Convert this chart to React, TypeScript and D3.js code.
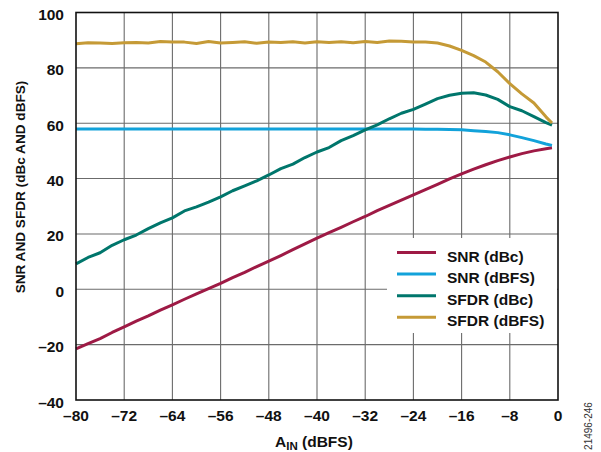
import React from "react";
import * as d3 from "d3";

const ain = [-80, -78, -76, -74, -72, -70, -68, -66, -64, -62, -60, -58, -56, -54, -52, -50, -48, -46, -44, -42, -40, -38, -36, -34, -32, -30, -28, -26, -24, -22, -20, -18, -16, -14, -12, -10, -8, -6, -4, -2, -1];

const snrDbc = [-21.5, -19.6, -17.8, -15.6, -13.6, -11.5, -9.6, -7.5, -5.6, -3.6, -1.7, 0.2, 2.1, 4.2, 6.1, 8.2, 10.2, 12.2, 14.3, 16.4, 18.5, 20.5, 22.4, 24.4, 26.3, 28.4, 30.3, 32.2, 34.1, 36.0, 37.9, 39.9, 41.7, 43.4, 45.0, 46.5, 47.8, 49.0, 50.0, 50.8, 51.1];

const snrDbfs = [57.9, 57.9, 57.9, 57.9, 57.9, 57.9, 57.9, 57.9, 57.9, 57.9, 57.9, 57.9, 57.9, 57.9, 57.9, 57.9, 57.9, 57.9, 57.9, 57.9, 57.9, 57.9, 57.9, 57.9, 57.9, 57.9, 57.9, 57.9, 57.9, 57.8, 57.8, 57.7, 57.6, 57.3, 57.0, 56.6, 55.8, 54.8, 53.7, 52.5, 52.0];

const sfdrDbc = [9.2, 11.5, 13.2, 15.9, 17.9, 19.6, 21.9, 24.0, 25.8, 28.3, 29.8, 31.5, 33.4, 35.6, 37.4, 39.2, 41.3, 43.6, 45.2, 47.6, 49.6, 51.2, 53.7, 55.5, 57.6, 59.4, 61.6, 63.6, 65.0, 66.9, 68.9, 70.1, 70.8, 71.0, 70.2, 68.6, 66.0, 64.5, 62.4, 60.2, 59.3];

const sfdrDbfs = [88.7, 89.1, 89.0, 88.8, 89.1, 89.2, 89.0, 89.5, 89.3, 89.3, 88.8, 89.5, 89.0, 89.2, 89.4, 88.9, 89.3, 89.2, 89.4, 89.0, 89.4, 89.2, 89.4, 89.1, 89.5, 89.2, 89.7, 89.6, 89.3, 89.3, 89.0, 87.9, 86.3, 84.4, 82.1, 78.6, 74.3, 70.6, 67.3, 62.3, 60.1];

const xTicks = [-80, -72, -64, -56, -48, -40, -32, -24, -16, -8, 0];
const yTicks = [100, 80, 60, 40, 20, 0, -20, -40];

const seriesNames = ["SNR (dBc)", "SNR (dBFS)", "SFDR (dBc)", "SFDR (dBFS)"];
const seriesColors = ["#9E1A45", "#12A2DA", "#00766C", "#C59A36"];
const seriesValues = [snrDbc, snrDbfs, sfdrDbc, sfdrDbfs];

const W = 601;
const H = 452;
const L = 76;
const R = 558;
const T = 12.5;
const B = 400;
const FONT = "'Liberation Sans', Arial, Helvetica, sans-serif";

export default function App() {
  const x = d3.scaleLinear().domain([-80, 0]).range([L, R]);
  const y = d3.scaleLinear().domain([-40, 100]).range([B, T]);
  const line = d3
    .line<[number, number]>()
    .x((d) => x(d[0]))
    .y((d) => y(d[1]));

  const legendY0 = 252.5;
  const legendDy = 21.6;

  return (
    <svg
      width={W}
      height={H}
      style={{ position: "absolute", left: 0, top: 0, background: "#fff" }}
      fontFamily={FONT}
    >
      <rect x={0} y={0} width={W} height={H} fill="#fff" />
      {xTicks.slice(1, -1).map((t) => (
        <line key={"gx" + t} x1={x(t)} x2={x(t)} y1={T} y2={B} stroke="#6b6b6b" strokeWidth={1.1} />
      ))}
      {yTicks.slice(1, -1).map((t) => (
        <line key={"gy" + t} x1={L} x2={R} y1={y(t)} y2={y(t)} stroke="#6b6b6b" strokeWidth={1.1} />
      ))}
      <rect x={387} y={238} width={R - 387 - 1} height={95} fill="#fff" />
      {seriesValues.map((vals, i) => (
        <path
          key={"s" + i}
          d={line(ain.map((a, j) => [a, vals[j]] as [number, number])) || ""}
          fill="none"
          stroke={seriesColors[i]}
          strokeWidth={3}
          strokeLinejoin="round"
          strokeLinecap="butt"
        />
      ))}
      <rect x={L} y={T} width={R - L} height={B - T} fill="none" stroke="#111" strokeWidth={1.6} />
      {yTicks.map((t) => (
        <text key={"ty" + t} x={64} y={y(t) + 7.5} textAnchor="end" fontSize={15.5} fontWeight="bold" fill="#111">
          {t < 0 ? "\u2013" + Math.abs(t) : String(t)}
        </text>
      ))}
      {xTicks.map((t) => (
        <text key={"tx" + t} x={x(t)} y={421} textAnchor="middle" fontSize={15.5} fontWeight="bold" fill="#111">
          {t < 0 ? "\u2013" + Math.abs(t) : String(t)}
        </text>
      ))}
      <text x={275} y={447} fontSize={15.5} fontWeight="bold" fill="#111">
        A
        <tspan fontSize={11.5} dy={3}>IN</tspan>
        <tspan dy={-3}>{" (dBFS)"}</tspan>
      </text>
      <text
        transform="translate(24.5,187) rotate(-90)"
        textAnchor="middle"
        fontSize={13.6}
        fontWeight="bold"
        fill="#111"
      >
        SNR AND SFDR (dBc AND dBFS)
      </text>
      {seriesNames.map((n, i) => (
        <g key={"lg" + i}>
          <line
            x1={397}
            x2={436}
            y1={legendY0 + i * legendDy}
            y2={legendY0 + i * legendDy}
            stroke={seriesColors[i]}
            strokeWidth={3}
          />
          <text x={447} y={legendY0 + i * legendDy + 9} fontSize={15.5} fontWeight="bold" fill="#111">
            {n}
          </text>
        </g>
      ))}
      <text
        transform="translate(592,426) rotate(-90)"
        textAnchor="middle"
        fontSize={10}
        fill="#333"
      >
        21496-246
      </text>
    </svg>
  );
}
